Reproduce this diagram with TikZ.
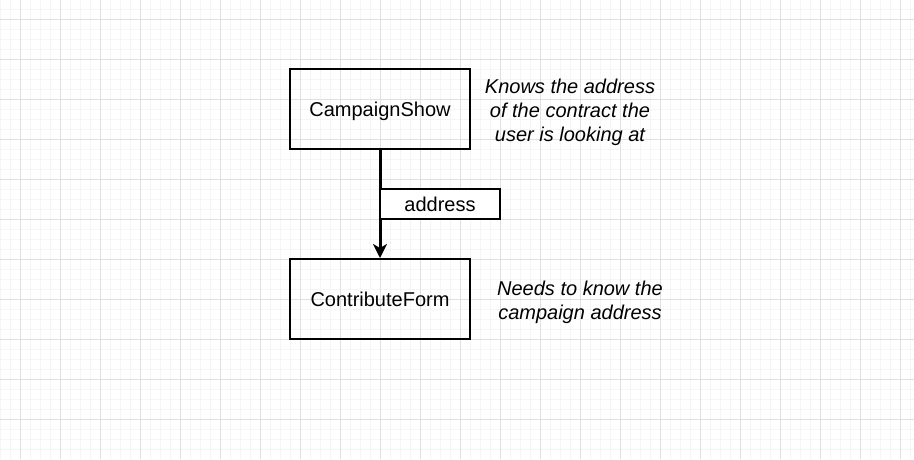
\documentclass[tikz,border=0pt]{standalone}
\usepackage{fontspec}
\setmainfont{Liberation Sans}
\usetikzlibrary{arrows.meta}
\definecolor{gridmajor}{HTML}{E0E0E0}
\definecolor{gridminor}{HTML}{F5F5F5}

\begin{document}
\begin{tikzpicture}[x = 1pt, y = -1pt, font = \fontsize{20}{24}\selectfont,
                        comp/.style = {draw, line width = 2pt, minimum width = 180pt, minimum height = 80pt, inner sep = 0pt, text depth = 0pt},
                        prop/.style = {draw, line width = 2pt, fill = white, minimum width = 120pt, minimum height = 30pt, inner sep = 0pt, text depth = 0pt},
                        note/.style = {align = center, font = \fontsize{20}{24}\selectfont\itshape}]
      \useasboundingbox (0, 0) rectangle (914, 459);
      % grid
      \foreach \x in {0,10,...,910} \draw [gridminor] (\x, 0) -- (\x, 459);
      \foreach \y in {9,19,...,449} \draw [gridminor] (0, \y) -- (914, \y);
      \foreach \x in {20,60,...,900} \draw [gridmajor] (\x, 0) -- (\x, 459);
      \foreach \y in {19,59,...,419} \draw [gridmajor] (0, \y) -- (914, \y);
      \node [comp] (show) at (380, 109){CampaignShow};
      \node [comp] (form) at (380, 299){ContributeForm};
      \node [note] (shownote) at (570, 112){Knows the address\\of the contract the\\user is looking at};
      \node [note] (formnote) at (580, 302){Needs to know the\\campaign address};
      \draw [line width = 3pt, -{Stealth[length = 14pt, width = 14pt, inset = 4pt]}] (show) -- (form);
      \node [prop] (addr) at (440, 204){address};
    \end{tikzpicture}
\end{document}
